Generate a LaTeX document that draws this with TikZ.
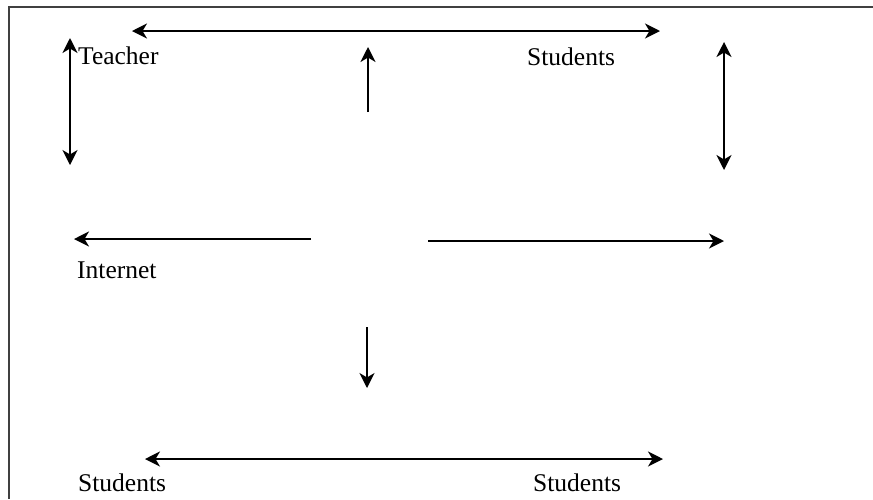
\documentclass[tikz,border=0pt]{standalone}
\usepackage{fontspec}
\setmainfont{Liberation Serif}
\usetikzlibrary{arrows.meta}
\tikzset{
  term/.style={font=\fontsize{25.5}{30}\selectfont, inner sep=0pt, anchor=west},
  frame/.style={draw=black!75, line width=2.4pt},
  link/.style={-{Stealth[length=15pt,width=15pt,inset=4.5pt]}, draw=black, line width=1.7pt},
  twoway/.style={link, {Stealth[length=15pt,width=15pt,inset=4.5pt]}-{Stealth[length=15pt,width=15pt,inset=4.5pt]}}
}

\begin{document}
\begin{tikzpicture}[x=1pt,y=-1pt]
  \useasboundingbox (0,0) rectangle (873,499);
  \draw[frame] (873,7) -- (9,7) -- (9,499);

  \node[term] (teacher) at (78,56) {Teacher};
  \node[term] (pupilsA) at (527,57) {Students};
  \node[term] (internet) at (77,270) {Internet};
  \node[term] (pupilsB) at (78,483) {Students};
  \node[term] (pupilsC) at (533,483) {Students};

  % free arrow ends
  \coordinate (topL) at (132,31);   \coordinate (topR) at (660,31);
  \coordinate (leftT) at (70,38);   \coordinate (leftB) at (70,165);
  \coordinate (rightT) at (724,42); \coordinate (rightB) at (724,170);
  \coordinate (upS) at (368,112);   \coordinate (upE) at (368,47);
  \coordinate (westS) at (311,239); \coordinate (westE) at (74,239);
  \coordinate (eastS) at (428,241); \coordinate (eastE) at (724,241);
  \coordinate (downS) at (367,327); \coordinate (downE) at (367,388);
  \coordinate (botL) at (145,459);  \coordinate (botR) at (663,459);

  \draw[twoway] (topL) -- (topR);
  \draw[twoway] (leftT) -- (leftB);
  \draw[twoway] (rightT) -- (rightB);
  \draw[twoway] (botL) -- (botR);
  \draw[link] (upS) -- (upE);
  \draw[link] (westS) -- (westE);
  \draw[link] (eastS) -- (eastE);
  \draw[link] (downS) -- (downE);
\end{tikzpicture}
\end{document}
